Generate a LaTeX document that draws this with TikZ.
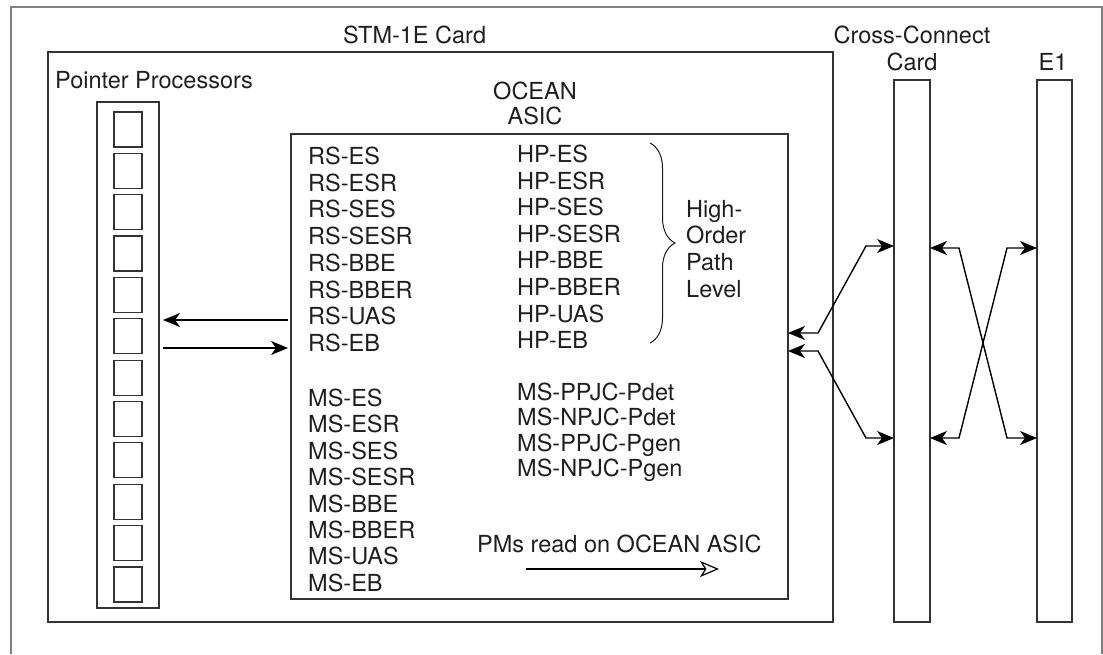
\documentclass[tikz,border=0pt]{standalone}
\usepackage{fontspec}
\setmainfont{TeX Gyre Heros}
\usetikzlibrary{arrows.meta,decorations.pathreplacing}
\tikzset{ctip/.tip={Stealth[length=17pt,width=14pt,inset=5pt]}}
\begin{document}
\begin{tikzpicture}[x=1pt,y=-1pt,
  lbl/.style={anchor=base west, inner sep=0pt, font=\fontsize{23.5}{27}\selectfont, text=black!88},
  ctr/.style={anchor=base, inner sep=0pt, font=\fontsize{23.5}{27}\selectfont, text=black!88},
  box/.style={draw=black!80, line width=1.2pt, inner sep=0pt, outer sep=0pt, anchor=north west},
  conn/.style={line width=1.4pt, draw=black}]
\useasboundingbox (0,0) rectangle (1103,654);
% outer frame (open at bottom)
\draw[black!50, line width=1.3pt] (11,654) -- (11,7) -- (1102,7) -- (1102,654);
% boxes
\node[box, minimum width=785pt, minimum height=570pt] (stm) at (48,52) {};
\node[box, minimum width=62pt, minimum height=506pt] (pp) at (97,102) {};
\foreach \i in {0,...,11}
  \node[box, minimum width=28pt, minimum height=35pt] (sq\i) at (114,{112+41.36*\i}) {};
\node[box, minimum width=497pt, minimum height=465pt] (ocean) at (291,134) {};
\node[box, minimum width=36pt, minimum height=542pt] (cc) at (894,80) {};
\node[box, minimum width=35pt, minimum height=542pt] (e1) at (1037,80) {};
% titles
\node[lbl] (tstm) at (343,43) {STM-1E Card};
\node[lbl] (tpp) at (55,88) {Pointer Processors};
\node[ctr] (toc1) at (535,99) {OCEAN};
\node[ctr] (toc2) at (535,124) {ASIC};
\node[ctr] (tcc1) at (912,43) {Cross-Connect};
\node[ctr] (tcc2) at (912,70) {Card};
\node[ctr] (te1) at (1053,70) {E1};
% columns
\foreach \t [count=\i from 0] in {RS-ES,RS-ESR,RS-SES,RS-SESR,RS-BBE,RS-BBER,RS-UAS,RS-EB}
  \node[lbl] (rs\i) at (308,{164.5+26.7*\i}) {\t};
\foreach \t [count=\i from 0] in {HP-ES,HP-ESR,HP-SES,HP-SESR,HP-BBE,HP-BBER,HP-UAS,HP-EB}
  \node[lbl] (hp\i) at (517,{162.5+26.6*\i}) {\t};
\foreach \t [count=\i from 0] in {MS-ES,MS-ESR,MS-SES,MS-SESR,MS-BBE,MS-BBER,MS-UAS,MS-EB}
  \node[lbl] (ms\i) at (308,{406.5+26.4*\i}) {\t};
\foreach \t [count=\i from 0] in {MS-PPJC-Pdet,MS-NPJC-Pdet,MS-PPJC-Pgen,MS-NPJC-Pgen}
  \node[lbl] (pj\i) at (517,{400.5+25.3*\i}) {\t};
\foreach \t [count=\i from 0] in {High-,Order,Path,Level}
  \node[lbl] (ho\i) at (686,{217+26.7*\i}) {\t};
\node[lbl] (tpm) at (477,552) {PMs read on OCEAN ASIC};
% brace
\draw[line width=1pt, black!90, decorate, decoration={brace, amplitude=25pt}] (650,143) -- (650,343);
% PMs arrow
\coordinate (pa) at (526,569);
\coordinate (pb) at (719,569);
\draw[line width=1.2pt, -{Stealth[open,length=19pt,width=16pt,inset=5pt]}] (pa) -- (pb);
% left arrows
\draw[conn, -ctip, shorten <=3pt, shorten >=4pt] (ocean.west |- 0,320) -- (pp.east |- 0,320);
\draw[conn, -ctip, shorten <=4pt, shorten >=3pt] (pp.east |- 0,348) -- (ocean.west |- 0,348);
% right arrows
\draw[conn, ctip-ctip] (ocean.east |- 0,333) -- (818,333) -- (866,246) -- (cc.west |- 0,246);
\draw[conn, ctip-ctip] (ocean.east |- 0,351) -- (818,351) -- (866,438) -- (cc.west |- 0,438);
\draw[conn, ctip-ctip] (cc.east |- 0,248) -- (959,248) -- (1007,438) -- (e1.west |- 0,438);
\draw[conn, ctip-ctip] (cc.east |- 0,438) -- (959,438) -- (1007,248) -- (e1.west |- 0,248);
\end{tikzpicture}
\end{document}
